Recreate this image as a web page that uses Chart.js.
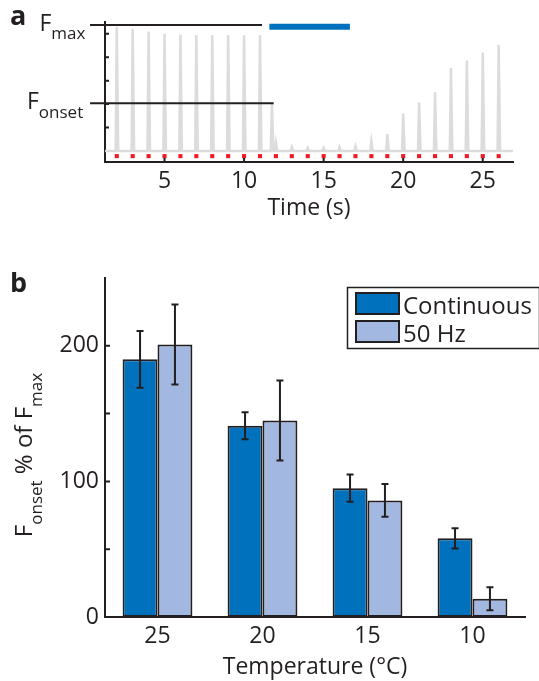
<!DOCTYPE html>
<html>
<head>
<title>Fonset vs temperature</title>
<style>
  body { margin: 0; background: #fff; }
  #wrap { position: relative; width: 539px; height: 681px; overflow: hidden; }
  canvas { position: absolute; left: 0; }
  #chartA { top: 0; }
  #chartB { top: 240px; }
</style>
</head>
<body>
<div id="wrap">
  <canvas id="chartA" width="539" height="240"></canvas>
  <canvas id="chartB" width="539" height="441"></canvas>
</div>

<script src="https://cdn.jsdelivr.net/npm/chart.js"></script>
<script>
// ---- panel a: force trace ----
const stimTimes = [2, 3, 4, 5, 6, 7, 8, 9, 10, 11, 12, 13, 14, 15, 16, 17, 18, 19, 20, 21, 22, 23, 24, 25, 26];
const peakTimes = [2, 3, 4, 5, 6, 7, 8, 9, 10, 11, 11.75, 12, 13, 14, 15, 16, 17, 18, 19, 20, 21, 22, 23, 24, 25, 26];
const peakHeights = [5.30, 5.20, 5.09, 5.00, 4.97, 4.95, 4.93, 4.95, 4.93, 4.93, 2.03, 0.37, 0.17, 0.13, 0.13, 0.17, 0.20, 0.42, 0.72, 1.60, 2.07, 2.50, 3.54, 3.86, 4.20, 4.53];
const traceRange = [1.26, 26.9];
const timeTicks = [5, 10, 15, 20, 25];
const forceTicks = [1, 2, 3, 4, 5];
const refNames = ['max', 'onset'];
const refLevels = [5.37, 2.03];
const refSpans = [[0.32, 11.13], [0.32, 11.86]];
const contStim = [11.59, 16.65];
const contStimLevel = 5.3;
const stimMarkLevel = -0.22;

// ---- panel b: bars ----
const temps = ['25', '20', '15', '10'];
const contMean = [190, 141, 95, 58];
const contErr = [21, 10, 10, 7.5];
const hzMean = [201, 145, 86, 13.5];
const hzErr = [29.5, 29.5, 12, 8.5];
const pctTicks = [0, 50, 100, 150, 200, 250];

const INK = '#231f20';
const FONT = '"Open Sans"';
Chart.defaults.font.family = FONT;
Chart.defaults.color = INK;

// draws short tick marks pointing into the plot area
const inwardTicks = {
    id: 'inwardTicks',
    afterDatasetsDraw(chart, args, opts) {
        const {ctx, chartArea, scales} = chart;
        ctx.save();
        ctx.strokeStyle = INK;
        ctx.lineWidth = 2;
        ctx.beginPath();
        (opts.x || []).forEach(v => {
            const px = scales.x.getPixelForValue(v);
            ctx.moveTo(px, chartArea.bottom);
            ctx.lineTo(px, chartArea.bottom - opts.len);
        });
        (opts.y || []).forEach(v => {
            const py = scales.y.getPixelForValue(v);
            ctx.moveTo(chartArea.left, py);
            ctx.lineTo(chartArea.left + opts.len, py);
        });
        ctx.stroke();
        ctx.restore();
    }
};

function subText(ctx, parts, x, y) {
    parts.forEach(([txt, size, dy, weight]) => {
        ctx.font = (weight || 'normal') + ' ' + size + 'px ' + FONT;
        ctx.fillText(txt, x, y + dy);
        x += ctx.measureText(txt).width;
    });
    return x;
}

const panelALabels = {
    id: 'panelALabels',
    afterDraw(chart) {
        const {ctx, scales} = chart;
        ctx.save();
        ctx.fillStyle = INK;
        ctx.textBaseline = 'alphabetic';
        ctx.font = 'bold 27px ' + FONT;
        ctx.fillText('a', 10, 25);
        const yMax = scales.y.getPixelForValue(refLevels[0]);
        const yOn = scales.y.getPixelForValue(refLevels[1]);
        subText(ctx, [['F', 23, 0], [refNames[0], 17, 8]], 39.5, yMax + 6);
        subText(ctx, [['F', 23, 0], [refNames[1], 17, 9]], 27, yOn + 6);
        ctx.restore();
    }
};

const trace = [{x: traceRange[0], y: 0}];
peakTimes.forEach((t, i) => {
    trace.push({x: t - 0.07, y: 0}, {x: t, y: peakHeights[i]}, {x: t + 0.09, y: 0});
});
trace.push({x: traceRange[1], y: 0});

new Chart(document.getElementById('chartA'), {
    type: 'line',
    data: {
        datasets: [
            { data: refSpans[0].map(x => ({x, y: refLevels[0]})), borderColor: INK, borderWidth: 2, pointRadius: 0, clip: false },
            { data: refSpans[1].map(x => ({x, y: refLevels[1]})), borderColor: INK, borderWidth: 2, pointRadius: 0, clip: false },
            { data: contStim.map(x => ({x, y: contStimLevel})), borderColor: '#0071bc', borderWidth: 6, pointRadius: 0, borderCapStyle: 'butt' },
            { data: stimTimes.map(x => ({x, y: stimMarkLevel})), showLine: false, pointStyle: 'rect', pointRadius: 2.9,
              pointBackgroundColor: '#ed1c24', pointBorderWidth: 0 },
            { data: trace, borderColor: '#dcdcdc', borderWidth: 2.5, pointRadius: 0, tension: 0 }
        ]
    },
    options: {
        responsive: false,
        animation: false,
        layout: { padding: { top: 22, right: 26, left: 0, bottom: 0 } },
        plugins: {
            legend: { display: false },
            tooltip: { enabled: false },
            inwardTicks: { x: timeTicks, y: forceTicks, len: 4 }
        },
        scales: {
            x: {
                type: 'linear', min: traceRange[0], max: traceRange[1],
                afterBuildTicks: s => { s.ticks = timeTicks.map(v => ({value: v})); },
                afterFit: s => { s.height = 78; },
                grid: { display: false, drawTicks: false },
                border: { color: INK, width: 2 },
                ticks: { font: { size: 23 }, padding: 6, color: INK },
                title: { display: true, text: 'Time (s)', font: { size: 23 }, color: INK, padding: { top: 0, bottom: 18 } }
            },
            y: {
                min: -0.47, max: 5.5,
                afterBuildTicks: s => { s.ticks = forceTicks.map(v => ({value: v})); },
                afterFit: s => { s.width = 105; },
                grid: { display: false, drawTicks: false },
                border: { color: INK, width: 2 },
                ticks: { display: false }
            }
        }
    },
    plugins: [inwardTicks, panelALabels]
});

// ---- panel b ----
const errorBars = {
    id: 'errorBars',
    afterDatasetsDraw(chart) {
        const {ctx, scales} = chart;
        const errs = [contErr, hzErr];
        ctx.save();
        ctx.strokeStyle = INK;
        ctx.lineWidth = 2;
        ctx.beginPath();
        chart.data.datasets.forEach((ds, di) => {
            chart.getDatasetMeta(di).data.forEach((bar, i) => {
                const v = ds.data[i], e = errs[di][i];
                const top = scales.y.getPixelForValue(v + e);
                const bot = scales.y.getPixelForValue(v - e);
                ctx.moveTo(bar.x, top); ctx.lineTo(bar.x, bot);
                ctx.moveTo(bar.x - 3.5, top); ctx.lineTo(bar.x + 3.5, top);
                ctx.moveTo(bar.x - 3.5, bot); ctx.lineTo(bar.x + 3.5, bot);
            });
        });
        ctx.stroke();
        ctx.restore();
    }
};

const panelBLabels = {
    id: 'panelBLabels',
    afterDraw(chart) {
        const {ctx} = chart;
        ctx.save();
        ctx.fillStyle = INK;
        ctx.textBaseline = 'alphabetic';
        ctx.font = 'bold 27px ' + FONT;
        ctx.fillText('b', 10, 52);

        // rotated y title with subscripts
        const parts = [['F', 24, 0], ['onset', 17, 10], [' % of ', 24, 0], ['F', 24, 0], ['max', 17, 10]];
        let total = 0;
        parts.forEach(([t, s]) => { ctx.font = s + 'px ' + FONT; total += ctx.measureText(t).width; });
        ctx.translate(32, 215 + total / 2);
        ctx.rotate(-Math.PI / 2);
        subText(ctx, parts, 0, 0);
        ctx.setTransform(1, 0, 0, 1, 0, 0);

        // legend
        ctx.strokeStyle = INK;
        ctx.lineWidth = 1.5;
        ctx.fillStyle = '#fff';
        ctx.fillRect(347.5, 47.5, 192, 61);
        ctx.strokeRect(347.5, 47.5, 192, 61);
        chart.data.datasets.forEach((ds, i) => {
            const y0 = 53 + i * 28;
            ctx.fillStyle = ds.backgroundColor;
            ctx.lineWidth = 2;
            ctx.fillRect(356, y0, 43, 21);
            ctx.strokeRect(356, y0, 43, 21);
            ctx.fillStyle = INK;
            ctx.font = '24px ' + FONT;
            ctx.fillText(ds.label, 403, y0 + 20.5);
        });
        ctx.restore();
    }
};

new Chart(document.getElementById('chartB'), {
    type: 'bar',
    data: {
        labels: temps,
        datasets: [
            { label: 'Continuous', data: contMean, backgroundColor: '#0071bc', borderColor: INK, borderWidth: 2, borderSkipped: false },
            { label: '50 Hz', data: hzMean, backgroundColor: '#a3b8e0', borderColor: INK, borderWidth: 2, borderSkipped: false }
        ]
    },
    options: {
        responsive: false,
        animation: false,
        layout: { padding: { top: 38, right: 14, left: 0, bottom: 0 } },
        datasets: { bar: { categoryPercentage: 0.665, barPercentage: 1.0 } },
        plugins: {
            legend: { display: false },
            tooltip: { enabled: false },
            inwardTicks: { y: pctTicks.slice(1, 5), len: 5 }
        },
        scales: {
            x: {
                afterFit: s => { s.height = 64; },
                grid: { display: false, drawTicks: false },
                border: { color: INK, width: 2 },
                ticks: { font: { size: 23 }, padding: 6, color: INK },
                title: { display: true, text: 'Temperature (°C)', font: { size: 23 }, color: INK, padding: 0 }
            },
            y: {
                min: 0, max: 250,
                afterBuildTicks: s => { s.ticks = pctTicks.map(v => ({value: v})); },
                afterFit: s => { s.width = 105; },
                grid: { display: false, drawTicks: false },
                border: { color: INK, width: 2 },
                ticks: { font: { size: 23 }, padding: 6, color: INK, callback: v => (v % 100 === 0 && v < 250 ? v : '') }
            }
        }
    },
    plugins: [inwardTicks, errorBars, panelBLabels]
});
</script>
</body>
</html>
